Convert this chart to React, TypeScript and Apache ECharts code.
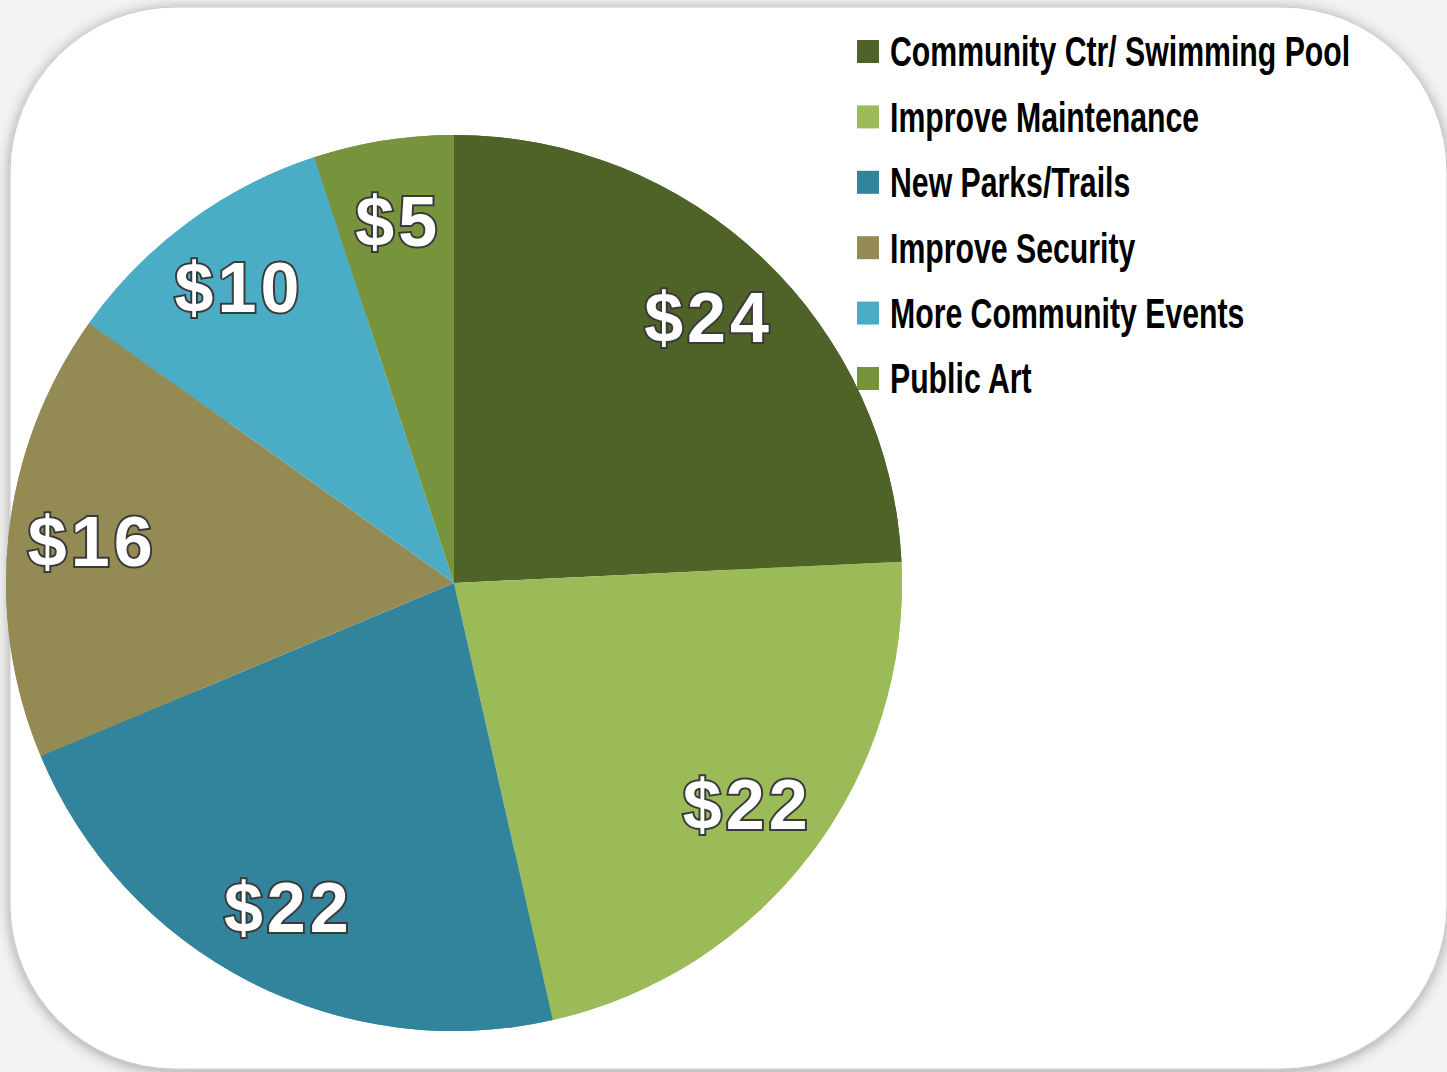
import React, { useEffect, useRef } from "react";
import * as echarts from "echarts";

const categories = [
  "Community Ctr/ Swimming Pool",
  "Improve Maintenance",
  "New Parks/Trails",
  "Improve Security",
  "More Community Events",
  "Public Art",
];
const values = [24, 22, 22, 16, 10, 5];
const colors = ["#4f6228", "#9bbb59", "#31849b", "#948a54", "#4bacc6", "#77933c"];

export default function App() {
  const ref = useRef<HTMLDivElement>(null);
  useEffect(() => {
    document.body.style.margin = "0";
    document.body.style.background = "#f3f3f3";
    if (!ref.current) return;
    const chart = echarts.init(ref.current, null, { renderer: "svg" });
    const data = categories.map((name, i) => ({
      name,
      value: values[i],
      itemStyle: { color: colors[i] },
    }));

    // Legend drawn with graphic elements (condensed text)
    const legendLeft = 857;
    const legendTop = 40;
    const rowGap = 65.4;
    const legendItems: any[] = [];
    categories.forEach((name, i) => {
      const y = legendTop + i * rowGap;
      legendItems.push({
        type: "rect",
        shape: { x: legendLeft, y, width: 22, height: 23 },
        style: { fill: colors[i] },
      });
      legendItems.push({
        type: "text",
        x: legendLeft + 33,
        y: y + 12,
        scaleX: 0.72,
        style: {
          x: 0,
          y: 0,
          text: name,
          fill: "#000000",
          font: "bold 42px 'Liberation Sans', Arial, sans-serif",
          textAlign: "left",
          textVerticalAlign: "middle",
        },
      });
    });

    const labelRich = {
      v: {
        fontFamily: "'Liberation Sans', Arial, sans-serif",
        fontWeight: "bold",
        fontSize: 70,
        color: "#ffffff",
        textBorderColor: "#3a3a3a",
        textBorderWidth: 4,
        padding: [0, 2, 0, 2],
      },
    };

    chart.setOption({
      animation: false,
      backgroundColor: "#f3f3f3",
      graphic: [
        {
          type: "rect",
          z: -10,
          shape: { x: 10, y: 7, width: 1437, height: 1062, r: 165 },
          style: {
            fill: "#ffffff",
            stroke: "#c8c8c8",
            lineWidth: 1,
            shadowBlur: 14,
            shadowColor: "rgba(0,0,0,0.35)",
            shadowOffsetX: 0,
            shadowOffsetY: 2,
          },
        },
        { type: "group", z: 10, children: legendItems },
      ],
      series: [
        {
          type: "pie",
          center: [454, 583],
          radius: [0, 448],
          startAngle: 90,
          clockwise: true,
          silent: true,
          label: { show: false },
          labelLine: { show: false },
          itemStyle: { borderWidth: 0 },
          data,
        },
        {
          type: "pie",
          center: [454, 583],
          radius: [278, 448],
          startAngle: 90,
          clockwise: true,
          silent: true,
          labelLine: { show: false },
          itemStyle: { borderWidth: 0 },
          label: {
            show: true,
            position: "inside",
            formatter: (p: any) =>
              ("$" + p.value)
                .split("")
                .map((ch: string) => "{v|" + ch + "}")
                .join(""),
            rich: labelRich,
          },
          data,
        },
      ],
    });
    return () => chart.dispose();
  }, []);
  return <div ref={ref} style={{ width: 1447, height: 1072 }} />;
}
